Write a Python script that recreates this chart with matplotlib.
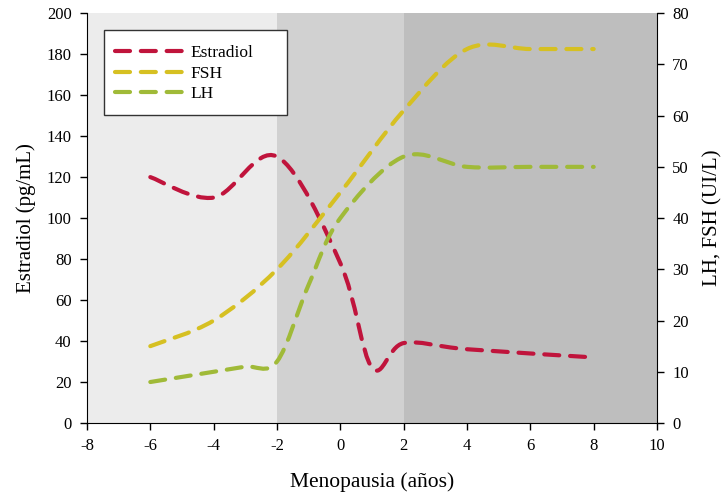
import matplotlib
matplotlib.use("Agg")
import matplotlib.pyplot as plt
from matplotlib.path import Path
from matplotlib.patches import PathPatch, Rectangle
from matplotlib.lines import Line2D

plt.rcParams["font.family"] = ["Liberation Serif", "DejaVu Serif"]
plt.rcParams["axes.unicode_minus"] = False

# data (years around menopause)
E2_X = [-6, -4, -2, 0, 1, 2, 4, 8]
E2_Y = [120, 110, 130, 78, 27, 39, 36, 32]
FSH_X = [-6, -4, -2, 0, 2, 4, 6, 8]
FSH_Y = [15, 20, 30, 45, 61, 73, 73, 73]
LH_X = [-6, -4, -3, -2, -1, 0, 2, 4, 6, 8]
LH_Y = [8, 10, 11, 12, 27, 40, 52, 50, 50, 50]

PHASES = [(-8, -2), (-2, 2), (2, 10)]
PHASE_COLORS = ["#ececec", "#d1d1d1", "#bebebe"]

C_E2 = "#c0143c"
C_FSH = "#d6c022"
C_LH = "#a0ba38"
DASH = (0, (3.6, 2.6))
LW = 3.0


def smooth_path(xs, ys):
    # Excel-like smoothing: cubic bezier segments with catmull-rom control points
    pts = list(zip(xs, ys))
    n = len(pts)
    verts = [pts[0]]
    codes = [Path.MOVETO]
    for i in range(n - 1):
        p0 = pts[max(i - 1, 0)]
        p1 = pts[i]
        p2 = pts[i + 1]
        p3 = pts[min(i + 2, n - 1)]
        c1 = (p1[0] + (p2[0] - p0[0]) / 6, p1[1] + (p2[1] - p0[1]) / 6)
        c2 = (p2[0] - (p3[0] - p1[0]) / 6, p2[1] - (p3[1] - p1[1]) / 6)
        verts += [c1, c2, p2]
        codes += [Path.CURVE4] * 3
    return Path(verts, codes)


def add_curve(ax, xs, ys, color):
    patch = PathPatch(smooth_path(xs, ys), fill=False, edgecolor=color,
                      linewidth=LW, linestyle=DASH, capstyle="round",
                      joinstyle="round", zorder=3)
    ax.add_patch(patch)


fig = plt.figure(figsize=(7.26, 5.01), dpi=100)
ax = fig.add_axes([0.1198, 0.1557, 0.7852, 0.818])
ax2 = ax.twinx()

for (x0, x1), c in zip(PHASES, PHASE_COLORS):
    ax.axvspan(x0, x1, color=c, lw=0, zorder=0)

add_curve(ax, E2_X, E2_Y, C_E2)
add_curve(ax2, FSH_X, FSH_Y, C_FSH)
add_curve(ax2, LH_X, LH_Y, C_LH)

ax.set_xlim(-8, 10)
ax.set_ylim(0, 200)
ax2.set_ylim(0, 80)
ax.set_xticks(range(-8, 11, 2))
ax.set_yticks(range(0, 201, 20))
ax2.set_yticks(range(0, 81, 10))

for a in (ax, ax2):
    a.spines["top"].set_visible(False)
    a.tick_params(labelsize=12, length=5, width=1, direction="out", pad=6)
ax.spines["right"].set_visible(False)
ax2.spines["left"].set_visible(False)
ax2.spines["bottom"].set_visible(False)

ax.set_xlabel("Menopausia (años)", fontsize=15.5, labelpad=13)
ax.set_ylabel("Estradiol (pg/mL)", fontsize=15, labelpad=8)
ax2.set_ylabel("LH, FSH (UI/L)", fontsize=15, labelpad=10)

# legend frame drawn separately (Excel leaves extra room on the right)
ax2.add_patch(Rectangle((0.0298, 0.751), 0.321, 0.2075, transform=ax2.transAxes,
                        facecolor="white", edgecolor="#333333", lw=1.0, zorder=4))
handles = [Line2D([], [], color=c, lw=LW, linestyle=DASH, dash_capstyle="round")
           for c in (C_E2, C_FSH, C_LH)]
leg = ax2.legend(handles, ["Estradiol", "FSH", "LH"], loc="upper left",
                 bbox_to_anchor=(0.0228, 0.9585), borderaxespad=0, fontsize=12.5,
                 handlelength=3.9, frameon=False, borderpad=0.85,
                 labelspacing=0.25, handletextpad=0.45)
leg.set_zorder(5)

fig.savefig("out.png", dpi=100)
